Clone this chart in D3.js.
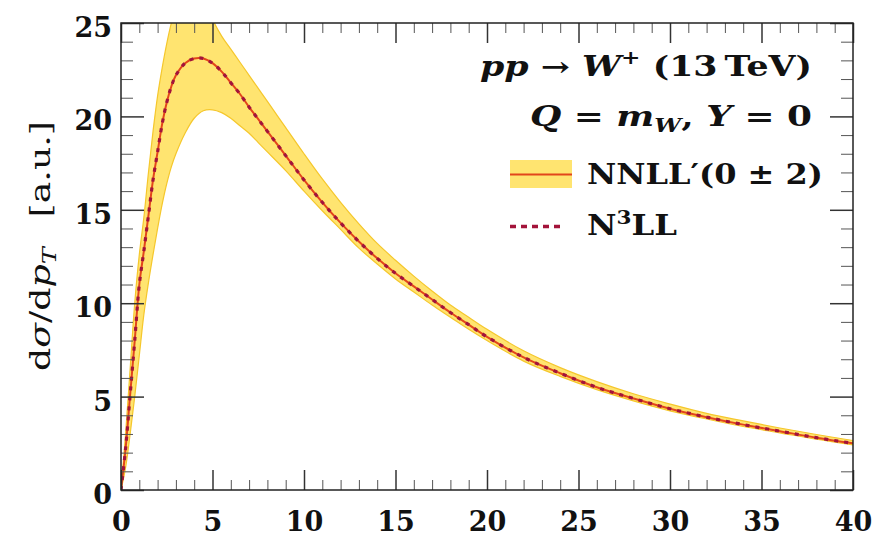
<!DOCTYPE html>
<html>
<head>
<meta charset="utf-8">
<title>pp -> W+ pT spectrum</title>
<style>
body, html { margin: 0; padding: 0; background: #ffffff; }
#chart { width: 876px; height: 536px; }
.axis path { display: none; }
.axis text {
  font-family: "DejaVu Serif", serif;
  font-weight: bold;
  font-size: 27px;
  fill: #111111;
}
.axis line { stroke: #333333; }
.minor line { stroke: #555555; stroke-width: 1; }
.major line { stroke-width: 1.5; }
.label {
  font-family: "DejaVu Serif", serif;
  font-weight: bold;
  font-size: 27px;
  fill: #111111;
}
</style>
<script src="https://d3js.org/d3.v7.min.js"></script>
</head>
<body>
<div id="chart"></div>
<script>

// p_T grid (GeV) and the curves, in a.u.
var pT = [0, 0.25, 0.5, 0.75, 1, 1.25, 1.5, 1.75, 2, 2.25, 2.5, 2.75, 3, 3.5, 4, 4.5, 5, 5.5, 6, 6.5,
          7, 7.5, 8, 9, 10, 11, 12, 13, 14, 15, 16, 17, 18, 19, 20, 22, 24, 26, 28, 30,
          32, 34, 36, 38, 40];

var nnll_central = [0, 2.2, 5.1, 8.0, 11.0, 12.8, 14.7, 16.6, 18.1, 19.6, 20.75, 21.6, 22.2, 22.85, 23.1, 23.1, 22.85, 22.4, 21.8, 21.2,
                    20.5, 19.85, 19.2, 17.9, 16.6, 15.4, 14.3, 13.3, 12.4, 11.6, 10.9, 10.2, 9.5, 8.85, 8.2, 7.1, 6.25, 5.5, 4.9, 4.35,
                    3.9, 3.5, 3.15, 2.8, 2.5];

var nnll_upper = [0, 3.0, 6.5, 10.0, 12.6, 14.6, 17.0, 19.2, 21.1, 22.6, 23.9, 25.0, 25.9, 26.9, 27.1, 26.4, 25.2, 24.3, 23.6, 22.9,
                  22.2, 21.5, 20.8, 19.4, 18.0, 16.65, 15.4, 14.25, 13.2, 12.3, 11.45, 10.65, 9.9, 9.25, 8.6, 7.45, 6.55, 5.8, 5.15, 4.6,
                  4.1, 3.7, 3.32, 2.97, 2.65];

var nnll_lower = [0, 1.2, 3.0, 5.0, 7.2, 9.4, 11.1, 12.6, 14.0, 15.3, 16.4, 17.3, 18.0, 19.1, 19.9, 20.3, 20.35, 20.2, 19.9, 19.5,
                  19.1, 18.6, 18.1, 17.1, 16.0, 14.95, 13.95, 12.95, 12.1, 11.3, 10.6, 9.9, 9.25, 8.6, 8.0, 6.9, 6.08, 5.37, 4.77, 4.24,
                  3.8, 3.4, 3.06, 2.72, 2.42];

var n3ll = [0, 2.2, 5.1, 8.0, 11.0, 12.8, 14.7, 16.6, 18.1, 19.6, 20.75, 21.6, 22.2, 22.85, 23.1, 23.1, 22.85, 22.4, 21.8, 21.2,
            20.5, 19.85, 19.2, 17.9, 16.6, 15.4, 14.3, 13.3, 12.4, 11.6, 10.9, 10.2, 9.5, 8.85, 8.2, 7.1, 6.25, 5.5, 4.9, 4.35,
            3.9, 3.5, 3.15, 2.8, 2.5];

var x_ticks = [0, 5, 10, 15, 20, 25, 30, 35, 40];
var y_ticks = [0, 5, 10, 15, 20, 25];

var legend_names = ["NNLL\u2032(0 \u00b1 2)", "N3LL"];

var band_fill = "#ffe470";
var band_edge = "#f5c72c";
var central_col = "#e2451b";
var dotted_col = "#a3133a";

var margin = { top: 23, right: 23, bottom: 46, left: 121 };
var W = 876, H = 536;
var width = W - margin.left - margin.right;
var height = H - margin.top - margin.bottom;

var x = d3.scaleLinear().domain([0, 40]).range([0, width]);
var y = d3.scaleLinear().domain([0, 25]).range([height, 0]);

var svg = d3.select("#chart").append("svg")
            .attr("width", W)
            .attr("height", H);

var chart = svg.append("g")
               .attr("transform", "translate(" + margin.left + "," + margin.top + ")");

chart.append("clipPath").attr("id", "plotclip")
     .append("rect").attr("width", width).attr("height", height);

var rows = pT.map(function(p, i) {
  return { pt: p, c: nnll_central[i], hi: nnll_upper[i], lo: nnll_lower[i], n3: n3ll[i] };
});

var plot = chart.append("g").attr("clip-path", "url(#plotclip)");

var smooth = d3.curveCatmullRom.alpha(0.5);

var band = d3.area()
             .x(function(d) { return x(d.pt); })
             .y0(function(d) { return y(d.lo); })
             .y1(function(d) { return y(d.hi); })
             .curve(smooth);

plot.append("path").datum(rows)
    .attr("d", band)
    .attr("fill", band_fill)
    .attr("stroke", band_edge)
    .attr("stroke-width", 1.2);

var line_c = d3.line().x(function(d) { return x(d.pt); })
               .y(function(d) { return y(d.c); }).curve(smooth);
var line_n3 = d3.line().x(function(d) { return x(d.pt); })
                .y(function(d) { return y(d.n3); }).curve(smooth);

plot.append("path").datum(rows)
    .attr("d", line_c)
    .attr("fill", "none")
    .attr("stroke", central_col)
    .attr("stroke-width", 2);

plot.append("path").datum(rows)
    .attr("d", line_n3)
    .attr("fill", "none")
    .attr("stroke", dotted_col)
    .attr("stroke-width", 3.2)
    .attr("stroke-dasharray", "4,6");

// axes: ticks point inward on all four sides
var minor_x = d3.range(0, 41).filter(function(v) { return v % 5 !== 0; });
var minor_y = d3.range(0, 26).filter(function(v) { return v % 5 !== 0; });

chart.append("g").attr("class", "axis major")
     .attr("transform", "translate(0," + height + ")")
     .call(d3.axisBottom(x).tickValues(x_ticks).tickSizeInner(-20).tickSizeOuter(0).tickPadding(22));
chart.append("g").attr("class", "axis minor")
     .attr("transform", "translate(0," + height + ")")
     .call(d3.axisBottom(x).tickValues(minor_x).tickSizeInner(-10).tickSizeOuter(0).tickFormat(""));
chart.append("g").attr("class", "axis major")
     .call(d3.axisTop(x).tickValues(x_ticks).tickSizeInner(-20).tickSizeOuter(0).tickFormat(""));
chart.append("g").attr("class", "axis minor")
     .call(d3.axisTop(x).tickValues(minor_x).tickSizeInner(-10).tickSizeOuter(0).tickFormat(""));

var yl = chart.append("g").attr("class", "axis major")
     .call(d3.axisLeft(y).tickValues(y_ticks).tickSizeInner(-23).tickSizeOuter(0).tickPadding(9));
yl.selectAll("text").attr("dy", "0.5em");
chart.append("g").attr("class", "axis minor")
     .call(d3.axisLeft(y).tickValues(minor_y).tickSizeInner(-12).tickSizeOuter(0).tickFormat(""));
chart.append("g").attr("class", "axis major")
     .attr("transform", "translate(" + width + ",0)")
     .call(d3.axisRight(y).tickValues(y_ticks).tickSizeInner(-23).tickSizeOuter(0).tickFormat(""));
chart.append("g").attr("class", "axis minor")
     .attr("transform", "translate(" + width + ",0)")
     .call(d3.axisRight(y).tickValues(minor_y).tickSizeInner(-12).tickSizeOuter(0).tickFormat(""));

chart.append("rect")
     .attr("width", width).attr("height", height)
     .attr("fill", "none").attr("stroke", "#222222").attr("stroke-width", 1.5);

// y axis title
var ytitle = svg.append("text")
   .attr("transform", "translate(50,246) rotate(-90)")
   .attr("text-anchor", "middle")
   .attr("textLength", 250)
   .attr("lengthAdjust", "spacingAndGlyphs")
   .style("font-family", "DejaVu Serif, serif")
   .style("font-size", "27px")
   .style("fill", "#111");
ytitle.append("tspan").text("d");
ytitle.append("tspan").style("font-style", "italic").text("\u03c3");
ytitle.append("tspan").text("/d");
ytitle.append("tspan").style("font-style", "italic").text("p");
ytitle.append("tspan").style("font-style", "italic").style("font-size", "19px").attr("dy", 6).text("T");
ytitle.append("tspan").attr("dy", -6).text("\u2002 [a.u.]");

// process label, right aligned
var t1 = svg.append("text").attr("class", "label")
            .attr("x", 812).attr("y", 76).attr("text-anchor", "end")
            .attr("textLength", 332).attr("lengthAdjust", "spacingAndGlyphs");
t1.append("tspan").style("font-style", "italic").text("pp");
t1.append("tspan").text(" \u2192 ");
t1.append("tspan").style("font-style", "italic").text("W");
t1.append("tspan").style("font-size", "18px").attr("dy", -12).text("+");
t1.append("tspan").attr("dy", 12).text("  (13\u2009TeV)");

var t2 = svg.append("text").attr("class", "label")
            .attr("x", 812).attr("y", 126).attr("text-anchor", "end")
            .attr("textLength", 282).attr("lengthAdjust", "spacingAndGlyphs");
t2.append("tspan").style("font-style", "italic").text("Q");
t2.append("tspan").text(" = ");
t2.append("tspan").style("font-style", "italic").text("m");
t2.append("tspan").style("font-style", "italic").style("font-size", "18px").attr("dy", 6).text("W");
t2.append("tspan").attr("dy", -6).text(", ");
t2.append("tspan").style("font-style", "italic").text("Y");
t2.append("tspan").text(" = 0");

// legend
var lg = svg.append("g");
lg.append("rect").attr("x", 510).attr("y", 160).attr("width", 62).attr("height", 28)
  .attr("fill", band_fill);
lg.append("line").attr("x1", 510).attr("x2", 572).attr("y1", 174.5).attr("y2", 174.5)
  .attr("stroke", central_col).attr("stroke-width", 2);
lg.append("line").attr("x1", 510).attr("x2", 563).attr("y1", 226.5).attr("y2", 226.5)
  .attr("stroke", dotted_col).attr("stroke-width", 3.5).attr("stroke-dasharray", "6,5");

lg.append("text").attr("class", "label").attr("x", 587).attr("y", 184)
  .attr("textLength", 236).attr("lengthAdjust", "spacingAndGlyphs")
  .text(legend_names[0]);
var l2 = lg.append("text").attr("class", "label").attr("x", 587).attr("y", 235)
           .attr("textLength", 90).attr("lengthAdjust", "spacingAndGlyphs");
l2.append("tspan").text("N");
l2.append("tspan").style("font-size", "18px").attr("dy", -11).text("3");
l2.append("tspan").attr("dy", 11).text("LL");

</script>
</body>
</html>
